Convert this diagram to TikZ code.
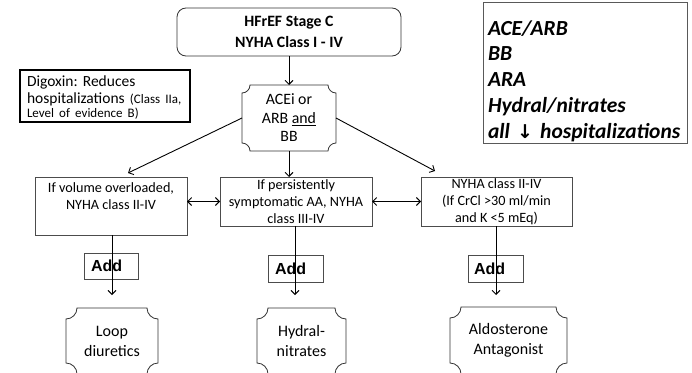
\documentclass[tikz,border=0pt]{standalone}
\usepackage{fontspec}
\setmainfont{Carlito}
\newfontfamily\arialf{Liberation Sans}
\newfontfamily\dejavu{DejaVu Sans}
\usetikzlibrary{arrows.meta}
\frenchspacing
\newcommand{\plaquedraw}[2]{%
 \draw[plq] ([xshift=#2]#1.north west) -- ([xshift=-#2]#1.north east)
 .. controls ([xshift=-#2,yshift=-0.552*#2]#1.north east) and ([xshift=-0.552*#2,yshift=-#2]#1.north east) .. ([yshift=-#2]#1.north east)
 -- ([yshift=#2]#1.south east)
 .. controls ([xshift=-0.552*#2,yshift=#2]#1.south east) and ([xshift=-#2,yshift=0.552*#2]#1.south east) .. ([xshift=-#2]#1.south east)
 -- ([xshift=#2]#1.south west)
 .. controls ([xshift=#2,yshift=0.552*#2]#1.south west) and ([xshift=0.552*#2,yshift=#2]#1.south west) .. ([yshift=#2]#1.south west)
 -- ([yshift=-#2]#1.north west)
 .. controls ([xshift=0.552*#2,yshift=-#2]#1.north west) and ([xshift=#2,yshift=-0.552*#2]#1.north west) .. cycle;}
\begin{document}
\begin{tikzpicture}[x=1pt,y=-1pt,
  plq/.style={draw=black!80,line width=0.8pt},
  box/.style={draw=black!70,line width=0.8pt,inner sep=0pt,outer sep=0pt,align=center,font=\fontsize{14.2}{16.8}\selectfont},
  plqbox/.style={inner sep=0pt,outer sep=0pt,align=center},
  addbox/.style={draw=black!70,line width=0.8pt,inner sep=0pt,outer sep=0pt,minimum height=26pt,align=left,font=\arialf\bfseries\fontsize{16}{18}\selectfont},
  arr/.style={line width=0.9pt,-{Straight Barb[length=4pt,width=8pt]}},
  darr/.style={line width=0.9pt,{Straight Barb[length=4pt,width=8pt]}-{Straight Barb[length=4pt,width=8pt]}}]
\useasboundingbox (0,0) rectangle (692,372);
\clip (0,0) rectangle (692,372);
\fill[white] (0,0) rectangle (692,372);
% top
\node[draw=black!80,line width=0.8pt,rounded corners=9pt,minimum width=224pt,minimum height=48pt,inner sep=0pt,outer sep=0pt,align=center,font=\bfseries\fontsize{15.8}{20.5}\selectfont] (top) at (289,32) {HFrEF Stage C\\NYHA Class I - IV};
% note right
\node[draw=black!65,line width=0.8pt,minimum width=204pt,minimum height=141pt,inner xsep=5pt,inner ysep=0pt,outer sep=0pt,text width=194pt,align=left,font=\bfseries\itshape\fontsize{21.5}{25.7}\selectfont] (note) at (585,72.5) {\raisebox{-9pt}[\height][\depth]{\begin{tabular}{@{}l@{}}ACE/ARB\\BB\\ARA\\Hydral/nitrates\\all {\dejavu\bfseries\fontsize{19}{25.7}\selectfont ↓} hospitalizations\end{tabular}}};
% digoxin
\node[draw=black,line width=1.4pt,minimum width=170pt,minimum height=52pt,inner xsep=7pt,inner ysep=0pt,outer sep=0pt,text width=156pt,align=left,font=\fontsize{15.5}{17}\selectfont] (dig) at (105,96) {\raisebox{-3pt}[\height][\depth]{\begin{tabular}{@{}l@{}}Digoxin: Reduces\\hospitalizations {\fontsize{13}{14}\selectfont (Class IIa,}\\[-3pt]{\fontsize{13}{14}\selectfont Level of evidence B)}\end{tabular}}};
% ACEi
\node[plqbox,minimum width=94pt,minimum height=66pt,font=\fontsize{15.8}{18.5}\selectfont] (acei) at (289,118) {ACEi or\\ARB \underline{and}\\BB};
\plaquedraw{acei}{8pt}
% middle row
\node[box,minimum width=152pt,minimum height=58pt] (lbox) at (111,206) {};
\node[inner sep=0pt,align=center,font=\fontsize{14.2}{17}\selectfont] (ltext) at (111,196.5) {If volume overloaded,\\NYHA class II-IV};
\node[box,minimum width=152pt,minimum height=49pt] (mbox) at (296,201.5) {If persistently\\symptomatic AA, NYHA\\class III-IV};
\node[box,minimum width=151pt,minimum height=49pt] (rbox) at (496.5,201.5) {NYHA class II-IV\\(If CrCl >30 ml/min\\and K <5 mEq)};
% add boxes
\node[addbox,inner xsep=7pt,text width=40pt] (ladd) at (111,266) {Add};
\node[addbox,inner xsep=7pt,text width=41pt,minimum height=27pt] (madd) at (295.5,268.5) {Add};
\node[addbox,inner xsep=6pt,text width=43pt,minimum height=27pt] (radd) at (495.5,268.5) {Add};
% bottom plaques
\node[plqbox,minimum width=92pt,minimum height=66pt,font=\fontsize{16}{20}\selectfont] (lbot) at (112,341) {Loop\\diuretics};
\plaquedraw{lbot}{11pt}
\node[plqbox,minimum width=89pt,minimum height=66pt,font=\fontsize{16}{20}\selectfont] (mbot) at (301.5,341) {Hydral-\\nitrates};
\plaquedraw{mbot}{11pt}
\node[plqbox,minimum width=117pt,minimum height=67pt,font=\fontsize{16}{20}\selectfont] (rbot) at (508.5,340.5) {Aldosterone\\Antagonist};
\plaquedraw{rbot}{11pt}
% connectors
\coordinate (lend) at (112,295);
\coordinate (mend) at (295,295);
\coordinate (rend) at (496,295);
\draw[arr] (top.south) -- (acei.north);
\draw[arr] (acei.west) -- ([xshift=17pt,yshift=4pt]lbox.north);
\draw[arr] (acei.east) -- ([xshift=14pt,yshift=6pt]rbox.north west);
\draw[arr] (acei.south) -- (acei.south |- mbox.north);
\draw[darr] (lbox.east |- mbox.west) -- (mbox.west);
\draw[darr] (mbox.east) -- (rbox.west);
\draw[arr] (lbox.south -| lend) -- (lend);
\draw[arr] (mbox.south -| mend) -- (mend);
\draw[arr] (rbox.south -| rend) -- (rend);
\end{tikzpicture}
\end{document}
